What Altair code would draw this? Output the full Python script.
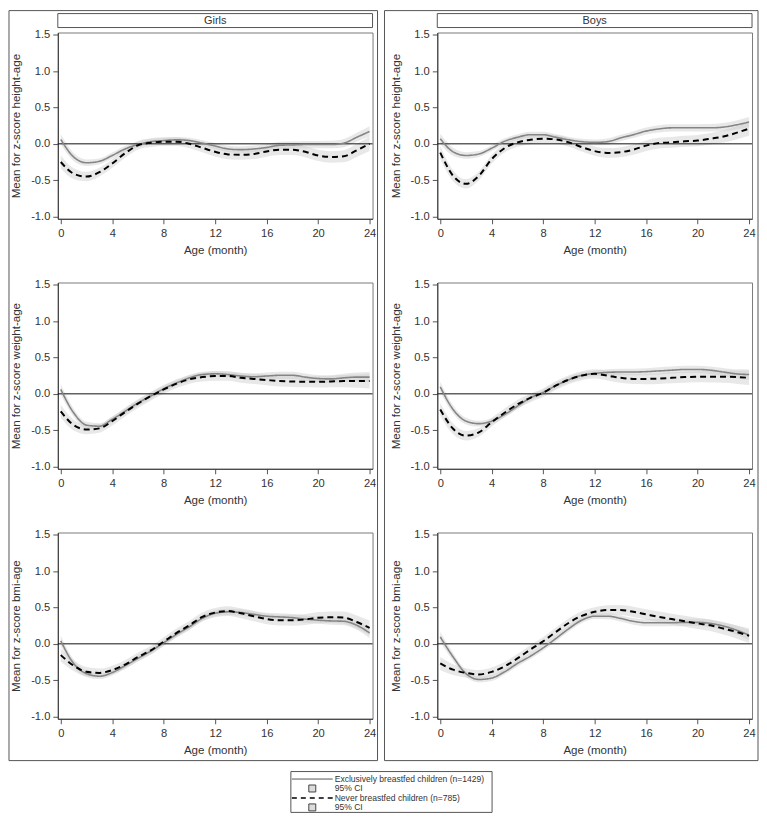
import altair as alt
import pandas as pd

months = list(range(25))
sexes = ["Girls", "Boys"]
measures = ["height-age", "weight-age", "bmi-age"]
groups = ["Exclusively breastfed children (n=1429)", "Never breastfed children (n=785)"]
legend_labels = ["Exclusively breastfed children (n=1429)", "95% CI",
                 "Never breastfed children (n=785)", "95% CI"]
x_ticks = [0, 4, 8, 12, 16, 20, 24]
y_ticks = [-1.0, -0.5, 0.0, 0.5, 1.0, 1.5]

# mean z-scores, months 0..24
girls_height_excl = [0.06, -0.18, -0.26, -0.24, -0.16, -0.07, -0.01, 0.03, 0.045, 0.055, 0.045, 0.01, -0.03,
                     -0.07, -0.08, -0.07, -0.05, -0.02, -0.015, -0.01, -0.01, -0.01, 0.01, 0.09, 0.17]
girls_height_never = [-0.25, -0.41, -0.45, -0.39, -0.27, -0.13, -0.02, 0.015, 0.03, 0.03, 0.0, -0.055, -0.11,
                      -0.145, -0.15, -0.14, -0.105, -0.08, -0.08, -0.11, -0.16, -0.18, -0.17, -0.09, 0.0]
boys_height_excl = [0.07, -0.11, -0.16, -0.14, -0.06, 0.035, 0.09, 0.125, 0.125, 0.09, 0.055, 0.03, 0.02,
                    0.03, 0.08, 0.125, 0.175, 0.205, 0.22, 0.22, 0.22, 0.22, 0.23, 0.26, 0.30]
boys_height_never = [-0.12, -0.44, -0.55, -0.44, -0.21, -0.06, 0.02, 0.055, 0.07, 0.06, 0.02, -0.045, -0.10,
                     -0.125, -0.115, -0.08, -0.025, 0.01, 0.02, 0.035, 0.045, 0.07, 0.10, 0.15, 0.21]
girls_weight_excl = [0.06, -0.26, -0.43, -0.445, -0.35, -0.24, -0.125, -0.03, 0.07, 0.15, 0.22, 0.265, 0.275,
                     0.265, 0.245, 0.235, 0.245, 0.255, 0.255, 0.23, 0.21, 0.205, 0.22, 0.23, 0.23]
girls_weight_never = [-0.24, -0.43, -0.49, -0.475, -0.375, -0.25, -0.135, -0.03, 0.06, 0.14, 0.2, 0.23, 0.245,
                      0.245, 0.22, 0.205, 0.19, 0.175, 0.17, 0.165, 0.165, 0.17, 0.175, 0.175, 0.175]
boys_weight_excl = [0.095, -0.215, -0.375, -0.41, -0.375, -0.285, -0.17, -0.055, 0.02, 0.115, 0.195, 0.255, 0.28,
                    0.295, 0.30, 0.30, 0.305, 0.315, 0.325, 0.335, 0.335, 0.325, 0.30, 0.275, 0.265]
boys_weight_never = [-0.215, -0.48, -0.575, -0.53, -0.39, -0.26, -0.145, -0.055, 0.015, 0.115, 0.195, 0.25, 0.275,
                     0.25, 0.22, 0.205, 0.205, 0.21, 0.22, 0.23, 0.235, 0.235, 0.235, 0.23, 0.22]
girls_bmi_excl = [0.04, -0.27, -0.41, -0.445, -0.395, -0.30, -0.20, -0.10, 0.015, 0.13, 0.235, 0.35, 0.42,
                  0.44, 0.43, 0.405, 0.38, 0.37, 0.36, 0.34, 0.325, 0.315, 0.31, 0.255, 0.15]
girls_bmi_never = [-0.155, -0.30, -0.385, -0.40, -0.36, -0.285, -0.18, -0.09, 0.03, 0.15, 0.255, 0.37, 0.43,
                   0.45, 0.42, 0.38, 0.34, 0.325, 0.325, 0.335, 0.36, 0.365, 0.36, 0.30, 0.22]
boys_bmi_excl = [0.095, -0.18, -0.41, -0.49, -0.47, -0.385, -0.27, -0.17, -0.055, 0.075, 0.21, 0.325, 0.38,
                 0.38, 0.35, 0.31, 0.29, 0.29, 0.29, 0.295, 0.295, 0.28, 0.245, 0.19, 0.12]
boys_bmi_never = [-0.27, -0.355, -0.40, -0.42, -0.385, -0.31, -0.20, -0.08, 0.035, 0.165, 0.29, 0.385, 0.44,
                  0.465, 0.465, 0.44, 0.405, 0.37, 0.34, 0.31, 0.28, 0.255, 0.21, 0.165, 0.11]

# 95% CI half widths
ci_excl = [0.07, 0.055, 0.045, 0.04, 0.04, 0.04, 0.04, 0.04, 0.04, 0.04, 0.04, 0.04, 0.04, 0.042, 0.044,
           0.046, 0.048, 0.05, 0.05, 0.05, 0.05, 0.052, 0.056, 0.062, 0.07]
ci_never = [0.09, 0.075, 0.065, 0.06, 0.06, 0.06, 0.06, 0.06, 0.06, 0.06, 0.06, 0.062, 0.064, 0.066, 0.068,
            0.07, 0.072, 0.074, 0.075, 0.076, 0.077, 0.079, 0.083, 0.09, 0.1]

series = {
    ("Girls", "height-age"): (girls_height_excl, girls_height_never),
    ("Boys", "height-age"): (boys_height_excl, boys_height_never),
    ("Girls", "weight-age"): (girls_weight_excl, girls_weight_never),
    ("Boys", "weight-age"): (boys_weight_excl, boys_weight_never),
    ("Girls", "bmi-age"): (girls_bmi_excl, girls_bmi_never),
    ("Boys", "bmi-age"): (boys_bmi_excl, boys_bmi_never),
}

W, H = 316, 187
FONT = "Liberation Sans"
TXT = "#333333"

xscale = alt.Scale(domain=[-0.23, 24.23], nice=False, zero=False)
yscale = alt.Scale(domain=[-1.03, 1.53], nice=False, zero=False)
gscale_color = alt.Scale(domain=groups, range=["#858585", "#000000"])
gscale_dash = alt.Scale(domain=groups, range=[[1, 0], [6, 4]])
gscale_width = alt.Scale(domain=groups, range=[1.6, 2.0])


def panel(sex, measure):
    excl, never = series[(sex, measure)]
    rows = []
    for g, vals, ci in ((groups[0], excl, ci_excl), (groups[1], never, ci_never)):
        for m, v, c in zip(months, vals, ci):
            rows.append({"month": m, "mean": v, "lo": v - c, "hi": v + c, "group": g})
    df = pd.DataFrame(rows)
    xax = alt.Axis(values=x_ticks, title="Age (month)", tickSize=5, labelPadding=4, titlePadding=6,
                   labelOverlap=False)
    yax = alt.Axis(values=y_ticks, title="Mean for z-score " + measure, tickSize=5, labelPadding=3,
                   labelOverlap=False,
                   labelExpr="datum.value < 0 ? '-' + format(-datum.value, '.1f') : format(datum.value, '.1f')",
                   titleX=-41, titleY=H / 2, titleAngle=-90, titleAlign="center", titleBaseline="middle")
    base = alt.Chart(df)
    band = base.mark_area(color="#c8c8c8", opacity=0.42, interpolate="monotone").encode(
        x=alt.X("month:Q", scale=xscale, axis=xax),
        y=alt.Y("lo:Q", scale=yscale, axis=yax),
        y2="hi:Q",
        detail="group:N",
    )
    zero = alt.Chart(pd.DataFrame({"z": [0.0]})).mark_rule(color="#111111", strokeWidth=1).encode(
        y=alt.Y("z:Q", scale=yscale, axis=yax)
    )
    lines = base.mark_line(interpolate="monotone").encode(
        x=alt.X("month:Q", scale=xscale, axis=xax),
        y=alt.Y("mean:Q", scale=yscale, axis=yax),
        color=alt.Color("group:N", scale=gscale_color, legend=None),
        strokeDash=alt.StrokeDash("group:N", scale=gscale_dash, legend=None),
        strokeWidth=alt.StrokeWidth("group:N", scale=gscale_width, legend=None),
        order=alt.Order("month:Q"),
    )
    layers = [band, zero, lines]
    one = pd.DataFrame({"label": [sex]})
    if measure == "height-age":
        left = -49 if sex == "Girls" else -53
        right = W + 5 if sex == "Girls" else W + 6
        box = alt.Chart(one).mark_rect(fillOpacity=0, stroke="#555555", strokeWidth=1).encode(
            x=alt.value(left), x2=alt.value(right), y=alt.value(-22), y2=alt.value(731)
        )
        strip = alt.Chart(one).mark_rect(fill="white", stroke="#555555", strokeWidth=1).encode(
            x=alt.value(0), x2=alt.value(W), y=alt.value(-19), y2=alt.value(-5)
        )
        head = alt.Chart(one).mark_text(font=FONT, fontSize=11, color=TXT, baseline="middle").encode(
            text="label:N", x=alt.value(W / 2), y=alt.value(-11.5)
        )
        layers = [box, strip, head] + layers
    if measure == "bmi-age" and sex == "Girls":
        lx0, lx1 = 234, 436
        ly0, ly1 = 240, 281
        rows_y = [247.5, 257, 266.5, 276]
        leg = []
        leg.append(alt.Chart(one).mark_rect(fill="white", stroke="#555555", strokeWidth=1).encode(
            x=alt.value(lx0), x2=alt.value(lx1), y=alt.value(ly0), y2=alt.value(ly1)))
        leg.append(alt.Chart(one).mark_rule(color="#555555", strokeWidth=1).encode(
            x=alt.value(lx0 + 1), x2=alt.value(276), y=alt.value(rows_y[0])))
        leg.append(alt.Chart(one).mark_rule(color="#000000", strokeWidth=1.6, strokeDash=[5, 4]).encode(
            x=alt.value(lx0 + 1), x2=alt.value(276), y=alt.value(rows_y[2])))
        for ry in (rows_y[1], rows_y[3]):
            leg.append(alt.Chart(one).mark_rect(fill="#dcdcdc", stroke="#444444", strokeWidth=1).encode(
                x=alt.value(252), x2=alt.value(259), y=alt.value(ry - 3.5), y2=alt.value(ry + 3.5)))
        for lab, ry in zip(legend_labels, rows_y):
            leg.append(alt.Chart(pd.DataFrame({"t": [lab]})).mark_text(
                font=FONT, fontSize=8.6, color=TXT, align="left", baseline="middle").encode(
                text="t:N", x=alt.value(278), y=alt.value(ry)))
        layers = layers + leg
    return alt.layer(*layers).properties(width=W, height=H)


panels = []
for measure in measures:
    for sex in sexes:
        panels.append(panel(sex, measure))

chart = alt.concat(*panels, columns=2, spacing={"row": 64, "column": 65}, bounds="flush").properties(
    padding=0, background="white"
).configure_view(stroke="#7a7a7a", strokeWidth=1).configure_axis(
    labelFont=FONT, titleFont=FONT, labelFontSize=11.2, titleFontSize=11.6, titleFontWeight="normal",
    labelColor=TXT, titleColor=TXT, domainColor="#333333", tickColor="#555555", grid=False
)

chart.save("out.html", embed_options={"renderer": "svg", "actions": False})
